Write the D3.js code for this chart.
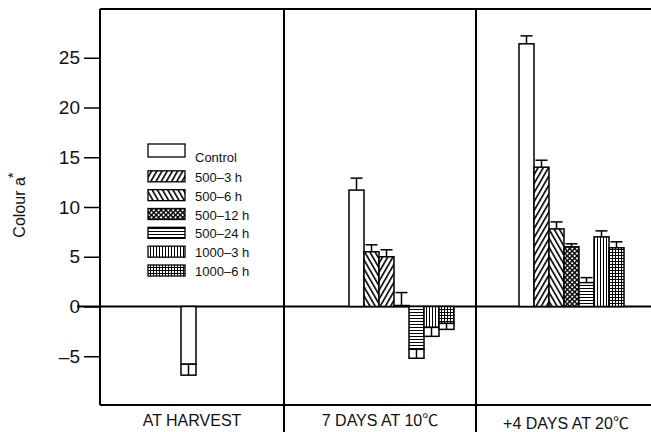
<!DOCTYPE html>
<html>
<head>
<meta charset="utf-8">
<script src="https://cdn.jsdelivr.net/npm/d3@7"></script>
<style>
  body { margin: 0; background: #fff; }
  text { font-family: "Liberation Sans", Arial, "Noto Sans CJK KR", sans-serif; fill: #111; }
</style>
</head>
<body>
<div id="chart"></div>
<script>
// data
var stages = ["AT HARVEST", "7 DAYS AT 10\u2103", "+4 DAYS AT 20\u2103"];
var treatments = ["Control", "500\u20133 h", "500\u20136 h", "500\u201312 h", "500\u201324 h", "1000\u20133 h", "1000\u20136 h"];
// bar order inside each panel (panel 2 has the two hatched ones swapped)
var barOrder = [
  ["Control"],
  ["Control", "500\u20136 h", "500\u20133 h", "500\u201312 h", "500\u201324 h", "1000\u20133 h", "1000\u20136 h"],
  ["Control", "500\u20133 h", "500\u20136 h", "500\u201312 h", "500\u201324 h", "1000\u20133 h", "1000\u20136 h"]
];
var harvestValues = [-5.8];
var harvestErrors = [1.1];
var days7Values = [11.7, 5.5, 5.0, 0.1, -4.3, -2.1, -1.7];
var days7Errors = [1.2, 0.7, 0.7, 1.3, 0.9, 0.9, 0.6];
var days4Values = [26.4, 14.0, 7.8, 6.0, 2.4, 7.0, 5.9];
var days4Errors = [0.8, 0.7, 0.7, 0.3, 0.5, 0.6, 0.6];
var yTicks = [-5, 0, 5, 10, 15, 20, 25];

var allValues = [harvestValues, days7Values, days4Values];
var allErrors = [harvestErrors, days7Errors, days4Errors];

var width = 651, height = 432;
var margin = { top: 9, bottom: 405, left: 100 };
var panelEdges = [100, 284, 476, 668];
var barStart = [81, 65, 43];   // offset of first bar inside panel
var barW = 15;

var svg = d3.select("#chart").append("svg")
  .attr("width", width).attr("height", height);

// 填充图案
var defs = svg.append("defs");
function mkPattern(id, size, rot, draw) {
  var p = defs.append("pattern").attr("id", id)
    .attr("patternUnits", "userSpaceOnUse")
    .attr("width", size).attr("height", size);
  if (rot) p.attr("patternTransform", "rotate(" + rot + ")");
  p.append("rect").attr("width", size).attr("height", size).attr("fill", "#fff");
  draw(p, size);
}
function vline(p, s, w) { p.append("rect").attr("x", 0).attr("y", 0).attr("width", w).attr("height", s).attr("fill", "#000"); }
function hline(p, s, w) { p.append("rect").attr("x", 0).attr("y", 0).attr("width", s).attr("height", w).attr("fill", "#000"); }

mkPattern("p1", 4.5, 30, (p, s) => vline(p, s, 1.6));
mkPattern("p2", 4.5, -30, (p, s) => vline(p, s, 1.6));
mkPattern("p3", 3.4, 45, (p, s) => { vline(p, s, 1.4); hline(p, s, 1.4); });
mkPattern("p4", 3, 0, (p, s) => hline(p, s, 1));
mkPattern("p5", 3, 0, (p, s) => vline(p, s, 1));
mkPattern("p6", 3, 0, (p, s) => { vline(p, s, 1); hline(p, s, 1); });

var fillOf = d3.scaleOrdinal()
  .domain(treatments)
  .range(["#fff", "url(#p1)", "url(#p2)", "url(#p3)", "url(#p4)", "url(#p5)", "url(#p6)"]);

var y = d3.scaleLinear().domain([-9.9, 29.9]).range([margin.bottom, margin.top]);

// axes frame
svg.append("line").attr("x1", 100).attr("x2", 651).attr("y1", margin.top).attr("y2", margin.top)
  .attr("stroke", "#000").attr("stroke-width", 2);
svg.append("line").attr("x1", 100).attr("x2", 651).attr("y1", margin.bottom).attr("y2", margin.bottom)
  .attr("stroke", "#000").attr("stroke-width", 2);
panelEdges.slice(1, 3).forEach(function (e) {
  svg.append("line").attr("x1", e).attr("x2", e).attr("y1", margin.top).attr("y2", height)
    .attr("stroke", "#000").attr("stroke-width", 2);
});

// y axis
var yAxis = d3.axisLeft(y).tickValues(yTicks).tickSize(16).tickPadding(4)
  .tickFormat(d => d < 0 ? "\u2013" + Math.abs(d) : d);
var yg = svg.append("g").attr("transform", "translate(100,0)").call(yAxis);
yg.select(".domain").attr("stroke-width", 2).attr("d", "M0," + margin.top + "V" + margin.bottom);
yg.selectAll(".tick line").attr("stroke-width", 1.5);
yg.selectAll(".tick text").attr("font-size", 19).attr("fill", "#111")
  .style("font-family", "'Liberation Sans', Arial, sans-serif");

// zero line
svg.append("line").attr("x1", 77).attr("x2", 651).attr("y1", y(0)).attr("y2", y(0))
  .attr("stroke", "#000").attr("stroke-width", 2);

svg.append("text")
  .attr("transform", "translate(25," + 205 + ") rotate(-90)")
  .attr("text-anchor", "middle").attr("font-size", 16)
  .html('Colour a<tspan dy="-7" dx="-1" font-size="15">*</tspan>');

// bars
stages.forEach(function (st, pi) {
  var x0 = panelEdges[pi] + barStart[pi];
  var xb = d3.scaleBand().domain(barOrder[pi]).range([x0, x0 + barW * barOrder[pi].length]).padding(0);
  var data = barOrder[pi].map((t, i) => ({ t: t, v: allValues[pi][i], e: allErrors[pi][i] }));
  var g = svg.append("g");
  g.selectAll("rect.bar").data(data).join("rect").attr("class", "bar")
    .attr("x", d => xb(d.t))
    .attr("y", d => y(Math.max(0, d.v)))
    .attr("width", xb.bandwidth())
    .attr("height", d => Math.abs(y(d.v) - y(0)))
    .attr("fill", d => fillOf(d.t))
    .attr("stroke", "#000").attr("stroke-width", 1.5);
  // error bars
  data.forEach(function (d) {
    var cx = xb(d.t) + xb.bandwidth() / 2;
    if (d.v >= 0) {
      var y1 = y(d.v), y2 = y(d.v + d.e);
      g.append("line").attr("x1", cx).attr("x2", cx).attr("y1", y1).attr("y2", y2).attr("stroke", "#000").attr("stroke-width", 1.5);
      g.append("line").attr("x1", cx - 6).attr("x2", cx + 6).attr("y1", y2).attr("y2", y2).attr("stroke", "#000").attr("stroke-width", 1.5);
    } else {
      var ya = y(d.v), yb = y(d.v - d.e);
      g.append("rect").attr("x", xb(d.t)).attr("y", ya).attr("width", xb.bandwidth()).attr("height", yb - ya)
        .attr("fill", "#fff").attr("stroke", "#000").attr("stroke-width", 1.5);
      g.append("line").attr("x1", cx).attr("x2", cx).attr("y1", ya).attr("y2", yb).attr("stroke", "#000").attr("stroke-width", 1.5);
    }
  });
  // category label
  var lx = pi < 2 ? (panelEdges[pi] + panelEdges[pi + 1]) / 2 : 566;
  svg.append("text").attr("x", lx).attr("y", pi < 2 ? 426 : 429)
    .attr("text-anchor", "middle").attr("font-size", 16).text(st);
});

// legend
var legY = d3.scalePoint().domain(treatments).range([150, 266]);
var leg = svg.append("g");
treatments.forEach(function (t, i) {
  var cy = legY(t);
  var h = i === 0 ? 13 : 11;
  leg.append("rect").attr("x", 148).attr("y", i === 0 ? cy - 6 : cy + 13 - h - (i * 0.5))
    .attr("width", 37).attr("height", h)
    .attr("fill", fillOf(t)).attr("stroke", "#000").attr("stroke-width", 1.3);
  leg.append("text").attr("x", 195).attr("y", i === 0 ? cy + 12 : cy + 13 - i * 0.5)
    .attr("font-size", 13).text(t);
});
</script>
</body>
</html>
